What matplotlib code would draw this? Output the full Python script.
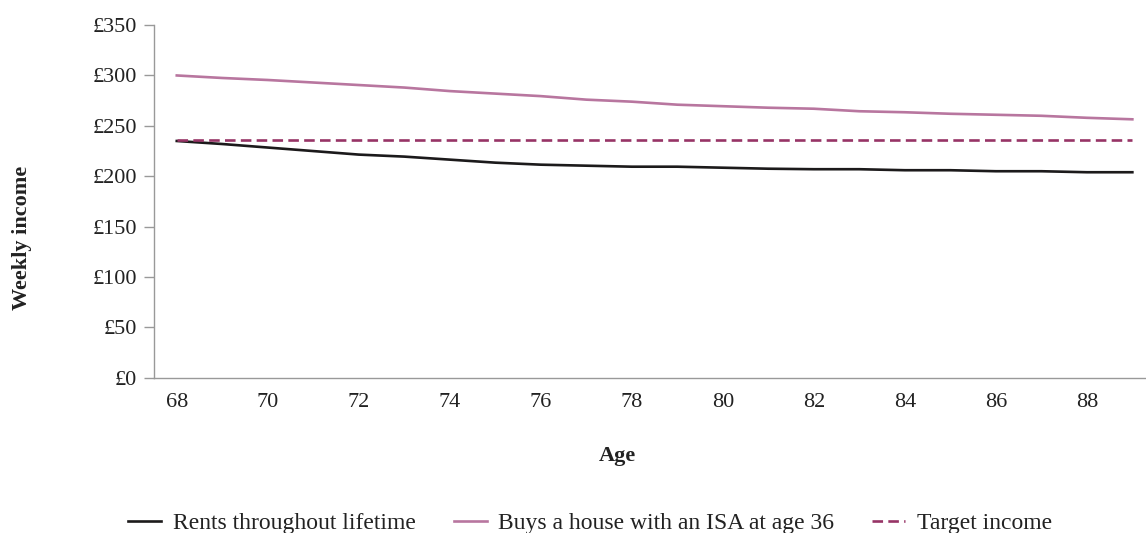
import matplotlib
matplotlib.use("Agg")
import matplotlib.pyplot as plt
from matplotlib.ticker import FuncFormatter

ages = list(range(68, 90))
rents = [235, 232, 228.5, 225, 221.5, 219.5, 216.5, 213.5, 211.5, 210.5, 209.5,
         209.5, 208.5, 207.5, 207, 207, 206, 206, 205, 205, 204, 204]
buys = [300, 297.5, 295.5, 293, 290.5, 288, 284.5, 282, 279.5, 276, 274,
        271, 269.5, 268, 267, 264.5, 263.5, 262, 261, 260, 258, 256.5]
target = [236] * len(ages)

x_ticks = list(range(68, 90, 2))
y_ticks = list(range(0, 351, 50))

plt.rcParams["font.family"] = ["Liberation Serif", "DejaVu Serif"]

fig = plt.figure(figsize=(11.46, 5.33), dpi=100)
ax = fig.add_axes([0.1344, 0.291, 0.8656, 0.662])

ax.plot(ages, rents, color="#1c1a1b", lw=1.9, label="Rents throughout lifetime")
ax.plot(ages, buys, color="#b8769f", lw=1.9, label="Buys a house with an ISA at age 36")
ax.plot(ages, target, color="#973466", lw=1.9, ls=(0, (4, 2)), label="Target income")

ax.set_xlim(67.5, 89.3)
ax.set_ylim(0, 350)
ax.set_xticks(x_ticks)
ax.set_yticks(y_ticks)
ax.yaxis.set_major_formatter(FuncFormatter(lambda v, _: f"£{int(v)}"))
ax.tick_params(axis="x", length=0, pad=11, labelsize=16, colors="#222222")
ax.tick_params(axis="y", length=7, width=1, color="#999999", pad=5, labelsize=16,
               labelcolor="#222222")
for s in ("top", "right"):
    ax.spines[s].set_visible(False)
for s in ("left", "bottom"):
    ax.spines[s].set_color("#999999")
    ax.spines[s].set_linewidth(1)

fig.text(0.019, 0.553, "Weekly income", rotation=90, ha="center",
         va="center", fontsize=16, fontweight="bold", color="#222222")
fig.text(0.539, 0.145, "Age", ha="center", va="center", fontsize=16,
         fontweight="bold", color="#222222")

fig.legend(loc="center", bbox_to_anchor=(0.515, 0.018), ncol=3, frameon=False,
           fontsize=17, handlelength=1.4, columnspacing=1.6, handletextpad=0.5,
           labelcolor="#222222")

fig.savefig("out.png", dpi=100)
